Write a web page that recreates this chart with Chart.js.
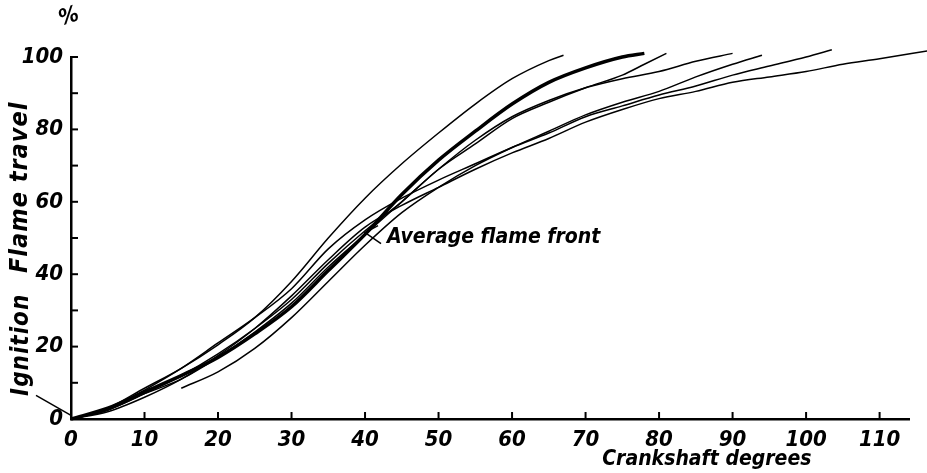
<!DOCTYPE html>
<html>
<head>
<meta charset="utf-8">
<script src="https://cdn.jsdelivr.net/npm/chart.js@4.4.0/dist/chart.umd.min.js"></script>
<style>
	html, body { margin: 0; padding: 0; background: #fff; }
	#wrap { width: 927px; height: 473px; }
</style>
</head>
<body>
<div id="wrap"><canvas id="flame"></canvas></div>
<script>
// crankshaft degrees and flame travel (%) for each recorded run
var avgDeg = [0, 5, 10, 15, 20, 25, 30, 35, 40, 45, 50, 55, 60, 65, 70, 75, 78];
var avgPct = [0, 3, 7.5, 12, 17, 23.5, 31, 41, 51, 62, 71.5, 79.5, 87, 93, 97, 100, 101];

var runADeg = [0, 5, 10, 15, 20, 25, 30, 35, 40, 45, 50, 55, 60, 65, 67];
var runAPct = [0, 3, 8.5, 14, 20.5, 28, 38, 50, 61, 70.5, 79, 87, 94, 99, 100.5];

var runBDeg = [0, 5, 10, 15, 20, 25, 30, 35, 40, 45, 50, 55, 60, 65, 70, 75, 78, 81];
var runBPct = [0, 2.5, 7, 12, 18, 25, 33, 43, 52, 60, 69, 76, 83, 87.5, 91.5, 95, 98, 101];

var runCDeg = [0, 5, 10, 15, 20, 25, 30, 35, 40, 45, 50, 55, 60, 65, 70, 75, 80, 85, 90];
var runCPct = [0, 2.5, 7, 11, 17, 24, 32, 42, 51, 60, 69, 77, 83.5, 88, 91.5, 94, 96, 98.8, 101];

var runDDeg = [15, 20, 25, 30, 35, 40, 45, 50, 55, 60, 65, 70, 75, 80, 85, 90, 94];
var runDPct = [8.5, 13, 19.5, 28, 38, 48, 57, 64, 70, 75, 79.5, 84, 87.5, 90.5, 94.5, 98, 100.5];

var runEDeg = [0, 5, 10, 15, 20, 25, 30, 35, 40, 45, 50, 55, 60, 65, 70, 75, 80, 85, 90, 95, 100, 103.5];
var runEPct = [0, 2.5, 8, 14, 21, 28, 36, 47, 55, 61, 66, 70.5, 75, 79, 83.5, 86.5, 89.5, 92, 95, 97.5, 100, 102];

var runFDeg = [0, 5, 10, 15, 20, 25, 30, 35, 40, 45, 50, 55, 60, 65, 70, 75, 80, 85, 90, 95, 100, 105, 110, 116.5];
var runFPct = [0, 2, 6, 11, 17.5, 25, 34, 44, 53, 59, 64, 69, 73.5, 77.5, 82, 85.5, 88.5, 90.5, 93, 94.5, 96, 98, 99.5, 101.7];

var xTicks = [0, 10, 20, 30, 40, 50, 60, 70, 80, 90, 100, 110];
var yTicks = [0, 20, 40, 60, 80, 100];

function pts(xs, ys) {
	return xs.map(function (x, i) { return { x: x, y: ys[i] }; });
}

function run(xs, ys, w) {
	return {
		data : pts(xs, ys),
		borderColor : "#000",
		borderWidth : w,
		pointRadius : 0,
		cubicInterpolationMode : "monotone",
		fill : false,
		clip : false
	};
}

var fam = "'DejaVu Sans Condensed', 'DejaVu Sans'";
var tickFont = { family : fam, size : 22, style : "italic", weight : "bold" };

// ticks inside the frame, labels, leader lines
var extras = {
	id : "extras",
	afterDatasetsDraw : function (chart) {
		var c = chart.ctx, xs = chart.scales.x, ys = chart.scales.y;
		c.save();
		c.strokeStyle = "#000";
		c.lineWidth = 2;
		for (var v = 10; v <= 110; v += 10) {
			var px = xs.getPixelForValue(v);
			c.beginPath(); c.moveTo(px, xs.top); c.lineTo(px, xs.top - 7); c.stroke();
		}
		for (var u = 10; u <= 100; u += 10) {
			var py = ys.getPixelForValue(u);
			c.beginPath(); c.moveTo(ys.right, py); c.lineTo(ys.right + 7, py); c.stroke();
		}

		c.fillStyle = "#000";
		c.textAlign = "center";
		c.textBaseline = "middle";

		c.font = "italic bold 25px " + fam;
		c.letterSpacing = "1px";
		c.save();
		c.translate(20, ys.getPixelForValue(64));
		c.rotate(-Math.PI / 2);
		c.fillText("Flame travel", 0, 0);
		c.restore();

		c.font = "italic bold 24px " + fam;
		c.save();
		c.translate(22, ys.getPixelForValue(20.5));
		c.rotate(-Math.PI / 2);
		c.fillText("Ignition", 0, 0);
		c.restore();
		c.letterSpacing = "0px";

		c.beginPath();
		c.lineWidth = 1.5;
		c.moveTo(36, ys.getPixelForValue(6.5));
		c.lineTo(xs.getPixelForValue(0), ys.getPixelForValue(1));
		c.stroke();

		c.font = "italic bold 22px " + fam;
		c.save();
		c.translate(ys.right - 2, ys.top - 40);
		c.rotate(-0.3);
		c.fillText("%", 0, 0);
		c.restore();

		// label for the average curve
		var ax = xs.getPixelForValue(40), ay = ys.getPixelForValue(51.5);
		c.beginPath();
		c.lineWidth = 1.5;
		c.moveTo(ax + 13, ay - 7); c.lineTo(ax, ay); c.lineTo(ax + 16, ay + 11);
		c.stroke();
		c.font = "italic bold 21px " + fam;
		c.textAlign = "left";
		c.fillText("Average flame front", ax + 22, ay + 5);

		c.textAlign = "center";
		c.fillText("Crankshaft degrees", xs.getPixelForValue(86.5), xs.top + 41);
		c.restore();
	}
};

var ctx = document.getElementById("flame");

var chart = new Chart(ctx, {
	type : "line",
	data : {
		datasets : [
			run(avgDeg, avgPct, 3.5),
			run(runADeg, runAPct, 1.5),
			run(runBDeg, runBPct, 1.5),
			run(runCDeg, runCPct, 1.5),
			run(runDDeg, runDPct, 1.5),
			run(runEDeg, runEPct, 1.5),
			run(runFDeg, runFPct, 1.5)
		]
	},
	options : {
		responsive : true,
		maintainAspectRatio : false,
		animation : false,
		layout : { padding : { left : 0, top : 57, right : 18, bottom : 0 } },
		plugins : {
			legend : { display : false },
			tooltip : { enabled : false }
		},
		scales : {
			x : {
				type : "linear",
				min : 0,
				max : 114,
				afterBuildTicks : function (s) { s.ticks = xTicks.map(function (v) { return { value : v }; }); },
				afterFit : function (s) { s.height = 54; },
				grid : { display : false },
				border : { display : true, color : "#000", width : 2.5 },
				ticks : { color : "#000", font : tickFont, padding : 0, maxRotation : 0 }
			},
			y : {
				min : 0,
				max : 100,
				afterBuildTicks : function (s) { s.ticks = yTicks.map(function (v) { return { value : v }; }); },
				afterFit : function (s) { s.width = 71; },
				grid : { display : false },
				border : { display : true, color : "#000", width : 2.5 },
				ticks : { color : "#000", font : tickFont, padding : 0 }
			}
		}
	},
	plugins : [extras]
});
</script>
</body>
</html>
